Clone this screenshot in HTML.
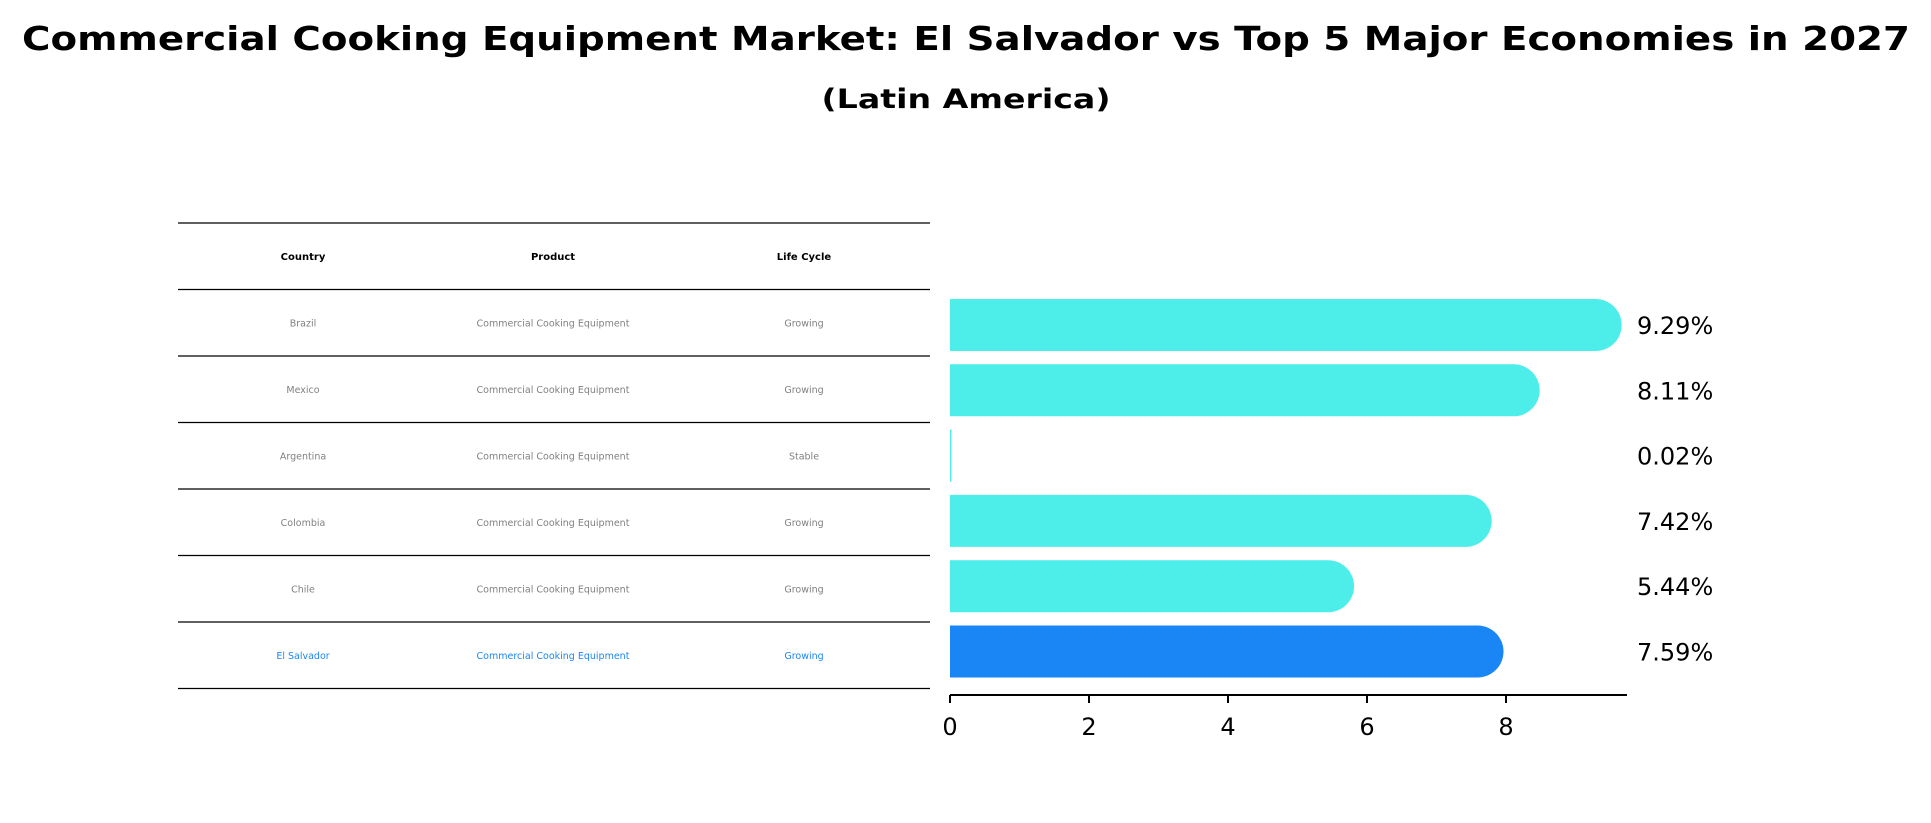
<!DOCTYPE html>
<html><head><meta charset="utf-8"><style>
html,body{margin:0;padding:0;background:#fff;}
svg{display:block;font-family:"DejaVu Sans","Liberation Sans",sans-serif;}
</style></head><body>
<svg id="chart" width="1931" height="823" viewBox="0 0 1931 823" xmlns="http://www.w3.org/2000/svg">
<text x="966" y="50" text-anchor="middle" font-size="33" font-weight="bold" textLength="1888" lengthAdjust="spacingAndGlyphs">Commercial Cooking Equipment Market: El Salvador vs Top 5 Major Economies in 2027</text>
<text x="966" y="108" text-anchor="middle" font-size="27" font-weight="bold" textLength="289" lengthAdjust="spacingAndGlyphs">(Latin America)</text>
<g id="table"></g>
<g id="bars"></g>
</svg>
<script>
const countries = ["Brazil","Mexico","Argentina","Colombia","Chile","El Salvador"];
const products = ["Commercial Cooking Equipment","Commercial Cooking Equipment","Commercial Cooking Equipment","Commercial Cooking Equipment","Commercial Cooking Equipment","Commercial Cooking Equipment"];
const lifeCycles = ["Growing","Growing","Stable","Growing","Growing","Growing"];
const values = [9.29,8.11,0.02,7.42,5.44,7.59];
const xTicks = [0,2,4,6,8];

const NS = "http://www.w3.org/2000/svg";
function mk(tag, attrs, parent){const e=document.createElementNS(NS,tag);for(const k in attrs)e.setAttribute(k,attrs[k]);parent.appendChild(e);return e;}

// table
const tbl = document.getElementById('table');
const tLeft=178, tRight=930, tTop=223, rowH=66.5;
const colX=[303,553,804];
for(let i=0;i<=countries.length+1;i++){
  const y=tTop+i*rowH;
  const ln=mk('line',{x1:tLeft,x2:tRight,y1:y,y2:y,stroke:'#000','stroke-width':1.3},tbl);
  
  
}
const headers=["Country","Product","Life Cycle"];
headers.forEach((h,j)=>{
  const t=mk('text',{x:colX[j],y:tTop+rowH/2+3.5,'text-anchor':'middle','font-size':10,'font-weight':'bold',fill:'#000'},tbl);
  t.textContent=h;
  
  
});
countries.forEach((c,i)=>{
  const y=tTop+(i+1)*rowH+rowH/2+3.5;
  const col = c==="El Salvador" ? '#1a86f5' : '#808080';
  [c,products[i],lifeCycles[i]].forEach((v,j)=>{
    const t=mk('text',{x:colX[j],y:y,'text-anchor':'middle','font-size':9.5,fill:col},tbl);
    t.textContent=v;
    
    
  });
});

// bars
const g=document.getElementById('bars');
const x0=950, unit=69.5, axisY=695, axisRight=1627;
const xs=v=>x0+v*unit;
const yCenter=i=>325+i*65.3;
const barH=52;
values.forEach((v,i)=>{
  const xl=xs(0), xr=xs(v), yc=yCenter(i), r=barH/2;
  const cap = (xr-xl)>5 ? r : 0;
  const d = cap>0
    ? `M${xl},${yc-r} L${xr},${yc-r} A${r},${r} 0 0 1 ${xr},${yc+r} L${xl},${yc+r} Z`
    : `M${xl},${yc-r} L${Math.max(xr,xl+1.5)},${yc-r} L${Math.max(xr,xl+1.5)},${yc+r} L${xl},${yc+r} Z`;
  const p=mk('path',{d:d,fill:countries[i]==="El Salvador"?'#1a86f5':'#4deeea'},g);
  
  
  const t=mk('text',{x:1637,y:yc+9,'font-size':24,fill:'#000'},g);
  t.textContent=v.toFixed(2)+'%';
  
  
});
const ax=mk('line',{x1:x0,x2:axisRight,y1:axisY,y2:axisY,stroke:'#000','stroke-width':2},g);


xTicks.forEach(tv=>{
  const tk=mk('line',{x1:xs(tv),x2:xs(tv),y1:axisY,y2:axisY+8,stroke:'#000','stroke-width':2},g);
  
  
  const tl=mk('text',{x:xs(tv),y:axisY+40,'text-anchor':'middle','font-size':24,fill:'#000'},g);
  tl.textContent=String(tv);
  
  
});
</script>
</body></html>
